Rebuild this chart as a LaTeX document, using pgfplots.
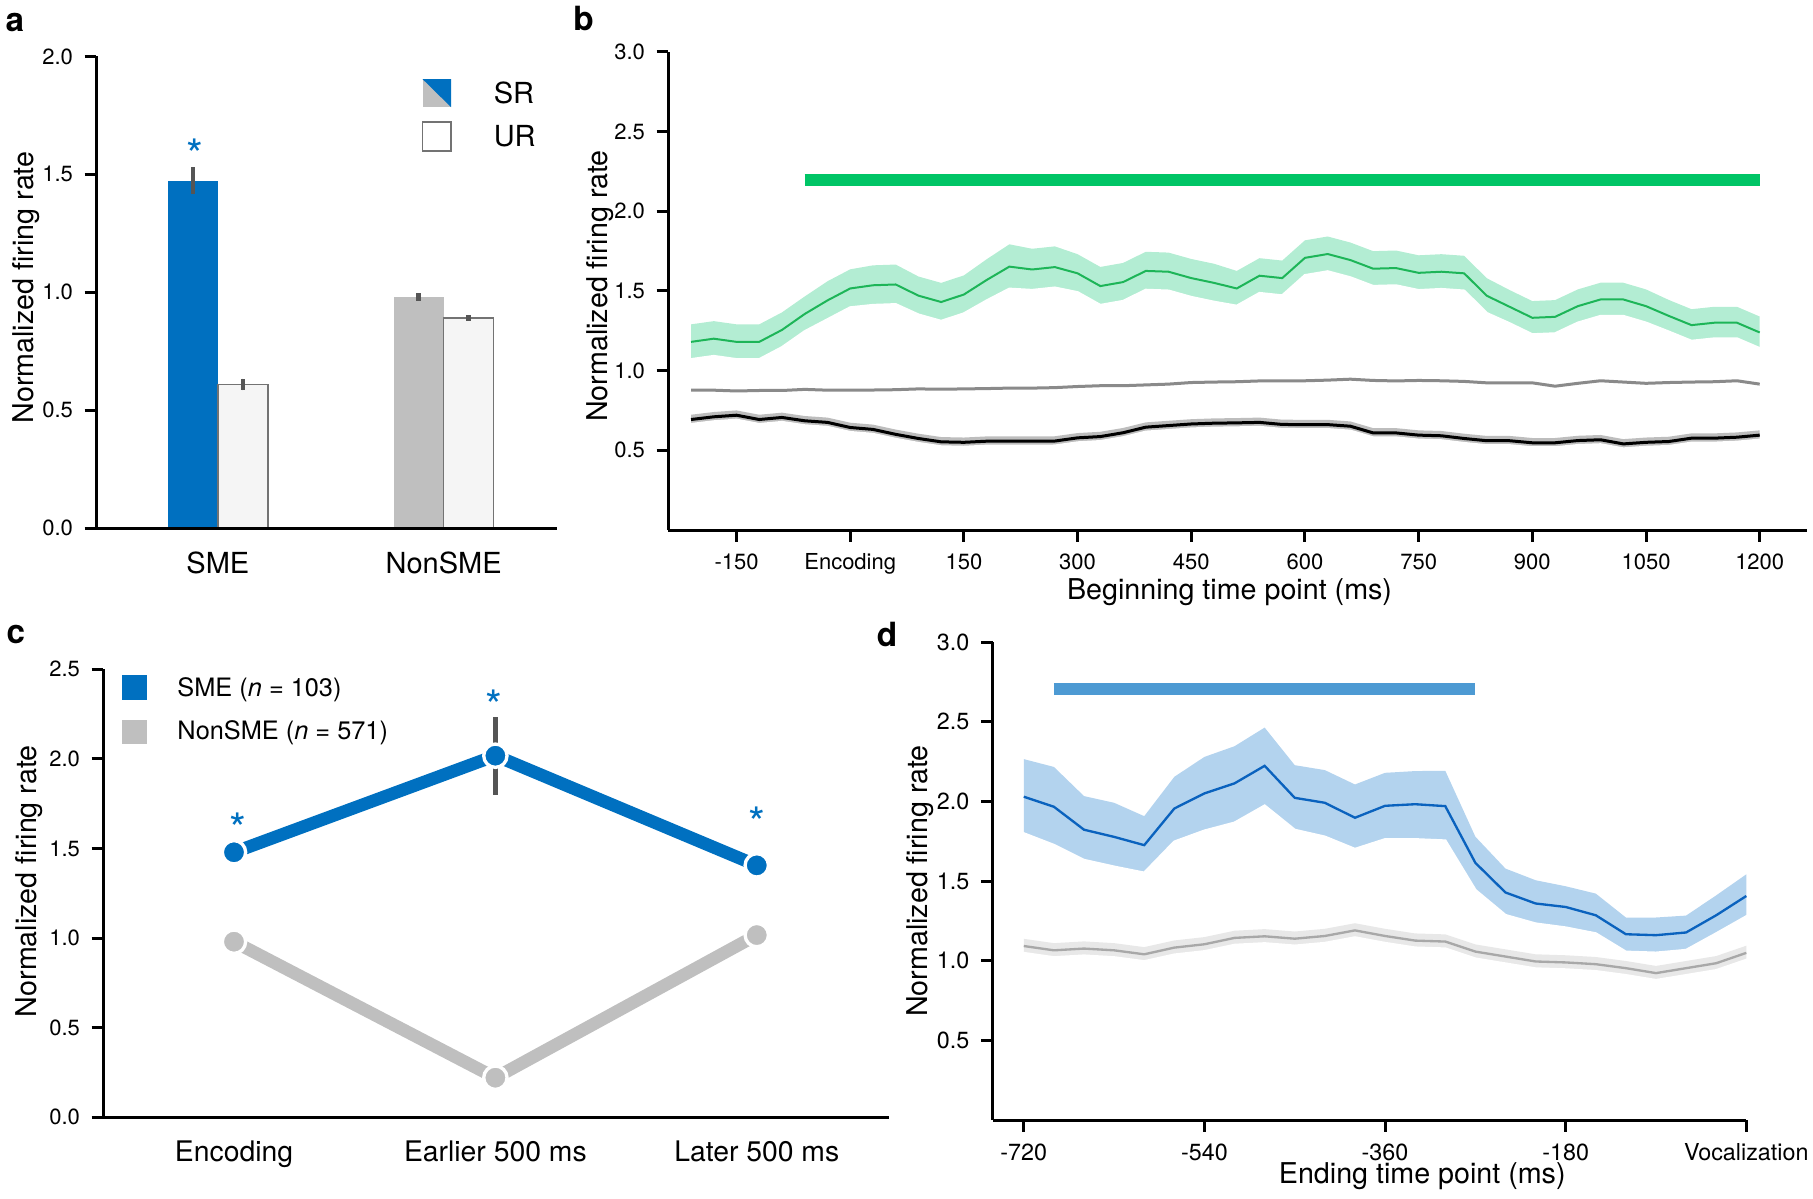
\documentclass[border=0pt]{standalone}
\usepackage{pgfplots}
\usepackage{pgfplotstable}
\pgfplotsset{compat=1.18}
\usepackage{fontspec}
\setmainfont{TeX Gyre Heros}

\definecolor{smeblue}{HTML}{0070C0}
\definecolor{nongray}{HTML}{BFBFBF}
\definecolor{urfill}{HTML}{F5F5F5}
\definecolor{errgray}{HTML}{555555}
\definecolor{gbar}{HTML}{00C566}
\definecolor{gline}{HTML}{1DB558}
\definecolor{gband}{HTML}{B3EDD3}
\definecolor{midgray}{HTML}{8A8A8A}
\definecolor{kband}{HTML}{BDBDBD}
\definecolor{dbar}{HTML}{4D9AD3}
\definecolor{dline}{HTML}{0A62BE}
\definecolor{dband}{HTML}{B3D3EE}
\definecolor{dgray}{HTML}{A8A8A8}
\definecolor{dgband}{HTML}{E8E8E8}

% panel b: beginning time point, green = SME, k = black, gr = grey
\pgfplotstableread{
t g ge k gr
-210 1.18 0.11 0.693 0.877
-180 1.20 0.11 0.710 0.877
-150 1.18 0.11 0.720 0.872
-120 1.18 0.11 0.693 0.875
-90 1.255 0.11 0.706 0.875
-60 1.355 0.11 0.685 0.882
-30 1.44 0.12 0.675 0.877
0 1.515 0.12 0.643 0.877
30 1.535 0.125 0.631 0.878
60 1.54 0.125 0.600 0.880
90 1.47 0.12 0.574 0.885
120 1.43 0.12 0.553 0.883
150 1.477 0.12 0.550 0.885
180 1.568 0.13 0.557 0.887
210 1.652 0.14 0.557 0.890
240 1.634 0.13 0.557 0.890
270 1.649 0.13 0.558 0.893
300 1.61 0.12 0.578 0.900
330 1.53 0.12 0.586 0.905
360 1.555 0.12 0.61 0.905
390 1.625 0.12 0.645 0.910
420 1.62 0.12 0.655 0.915
450 1.58 0.12 0.665 0.925
480 1.55 0.12 0.67 0.928
510 1.515 0.11 0.672 0.930
540 1.595 0.11 0.675 0.935
570 1.58 0.11 0.662 0.935
600 1.707 0.11 0.661 0.936
630 1.731 0.11 0.661 0.940
660 1.693 0.11 0.651 0.946
690 1.639 0.11 0.609 0.938
720 1.643 0.11 0.609 0.935
750 1.613 0.11 0.595 0.938
780 1.62 0.11 0.591 0.936
810 1.61 0.11 0.574 0.932
840 1.469 0.11 0.560 0.923
870 1.40 0.105 0.560 0.923
900 1.331 0.105 0.547 0.923
930 1.337 0.105 0.547 0.902
960 1.404 0.105 0.561 0.920
990 1.446 0.105 0.566 0.936
1020 1.446 0.105 0.540 0.928
1050 1.404 0.105 0.550 0.920
1080 1.343 0.1 0.555 0.925
1110 1.285 0.1 0.576 0.928
1140 1.30 0.1 0.576 0.930
1170 1.30 0.1 0.582 0.936
1200 1.239 0.1 0.595 0.915
}\tabB

% panel d: ending time point, m/lo/hi = SME (blue), g = NonSME (grey)
\pgfplotstableread{
t m lo hi g
-720 2.029 1.798 2.265 1.092
-690 1.966 1.725 2.216 1.065
-660 1.822 1.631 2.033 1.076
-630 1.777 1.589 1.991 1.065
-600 1.725 1.551 1.907 1.040
-570 1.955 1.746 2.154 1.082
-540 2.05 1.815 2.279 1.103
-510 2.113 1.865 2.346 1.143
-480 2.223 1.972 2.463 1.153
-450 2.022 1.82 2.227 1.138
-420 1.991 1.777 2.196 1.155
-390 1.897 1.70 2.106 1.190
-360 1.972 1.761 2.179 1.155
-330 1.982 1.761 2.19 1.126
-300 1.97 1.753 2.192 1.120
-270 1.614 1.442 1.778 1.057
-240 1.428 1.285 1.578 1.026
-210 1.359 1.232 1.505 0.995
-180 1.337 1.207 1.467 0.989
-150 1.285 1.17 1.421 0.978
-120 1.166 1.055 1.271 0.953
-90 1.16 1.049 1.271 0.922
-60 1.177 1.066 1.283 0.953
-30 1.285 1.17 1.41 0.984
0 1.406 1.277 1.542 1.049
}\tabD

\pgfplotsset{
  panel/.style={
    scale only axis, axis lines=left, axis on top,
    axis line style={-, line width=0.9pt},
    tick align=outside, tick pos=left, major tick length=3.5pt,
    tick style={black, line width=0.9pt},
    tick label style={font=\fontsize{6.6}{7}\selectfont},
    label style={font=\fontsize{8.6}{10}\selectfont},
    clip=false,
  },
  errs/.style={error bars/.cd, y dir=both, y explicit, error mark=none,
    error bar style={errgray, line width=1.3pt}},
  mask/.style={fill=white, draw=white, line width=0.8pt},
}
\tikzset{sigstar/.style={text=smeblue, font=\fontsize{13}{13}\selectfont, anchor=base, yshift=-7.5pt}}

\begin{document}
\begin{tikzpicture}
\path[use as bounding box] (0,0) rectangle (543.9pt,-359.4pt);

% ---------------- a ----------------
\begin{axis}[panel, at={(28.92pt,-16.92pt)}, anchor=north west,
  width=138.18pt, height=141.48pt,
  xmin=-0.5383, xmax=1.5024, ymin=0, ymax=2,
  xtick={0,1}, xticklabels={SME,NonSME},
  x tick label style={font=\fontsize{8.7}{10}\selectfont},
  major x tick style={draw=none},
  ytick={0,0.5,1,1.5,2}, yticklabels={0.0,0.5,1.0,1.5,2.0},
  ylabel={Normalized firing rate},
  ylabel style={at={(axis description cs:-0.1535,0.51)}, anchor=center}]
\addplot[ybar, bar width=0.2215, fill=smeblue, draw=none, errs]
  coordinates {(-0.1107,1.473) +- (0,0.056)};
\addplot[ybar, bar width=0.2215, fill=nongray, draw=none, errs]
  coordinates {(0.8893,0.979) +- (0,0.016)};
\addplot[ybar, bar width=0.2215, fill=urfill, draw=black!55, line width=0.4pt, errs]
  coordinates {(0.1107,0.609) +- (0,0.025) (1.1107,0.891) +- (0,0.012)};
\node[sigstar] at (axis cs:-0.103,1.624) {*};
% legend
\fill[nongray] (axis cs:0.9065,1.785) rectangle (axis cs:1.0328,1.904);
\fill[smeblue] (axis cs:0.9065,1.904) -- (axis cs:1.0328,1.904) -- (axis cs:1.0328,1.785) -- cycle;
\draw[black!55, fill=white, line width=0.5pt] (axis cs:0.9065,1.599) rectangle (axis cs:1.0328,1.722);
\node[anchor=west, font=\fontsize{8.7}{10}\selectfont] at (axis cs:1.17,1.845) {SR};
\node[anchor=west, font=\fontsize{8.7}{10}\selectfont] at (axis cs:1.17,1.66) {UR};
\end{axis}

% ---------------- b ----------------
\begin{axis}[panel, at={(200.49pt,-15.51pt)}, anchor=north west,
  width=341.52pt, height=143.49pt,
  xmin=-240, xmax=1262, ymin=0, ymax=3,
  xtick={-150,0,150,300,450,600,750,900,1050,1200},
  xticklabels={-150,Encoding,150,300,450,600,750,900,1050,1200},
  ytick={0.5,1,1.5,2,2.5,3}, yticklabels={0.5,1.0,1.5,2.0,2.5,3.0},
  xlabel={Beginning time point (ms)}, ylabel={Normalized firing rate},
  xlabel style={at={(axis description cs:0.493,-0.13)}, anchor=center},
  ylabel style={at={(axis description cs:-0.06,0.51)}, anchor=center}]
% bands: upper edge filled down to zero, then masked by the lower edge
\addplot[fill=gband, draw=none] table[x=t, y expr=\thisrow{g}+\thisrow{ge}] {\tabB} \closedcycle;
\addplot[mask] table[x=t, y expr=\thisrow{g}-\thisrow{ge}] {\tabB} \closedcycle;
\addplot[gline, line width=0.6pt] table[x=t, y=g] {\tabB};
\addplot[fill=kband, draw=none] table[x=t, y expr=\thisrow{k}+0.03] {\tabB} \closedcycle;
\addplot[mask] table[x=t, y expr=\thisrow{k}-0.03] {\tabB} \closedcycle;
\addplot[black, line width=0.9pt] table[x=t, y=k] {\tabB};
\addplot[midgray, line width=0.9pt] table[x=t, y=gr] {\tabB};
\addplot[gbar, line width=3.5pt] coordinates {(-60,2.195) (1200,2.195)};
\end{axis}

% ---------------- c ----------------
\begin{axis}[panel, at={(30.99pt,-200.79pt)}, anchor=north west,
  width=235.8pt, height=134.4pt,
  xmin=-0.5, xmax=2.507, ymin=0, ymax=2.5,
  xtick={0,1,2}, xticklabels={Encoding,Earlier 500 ms,Later 500 ms},
  major x tick style={draw=none},
  x tick label style={font=\fontsize{8.5}{10}\selectfont},
  ytick={0,0.5,1,1.5,2,2.5}, yticklabels={0.0,0.5,1.0,1.5,2.0,2.5},
  ylabel={Normalized firing rate},
  ylabel style={at={(axis description cs:-0.094,0.527)}, anchor=center}]
\addplot[only marks, mark=none, errs] coordinates {(1,2.018) +- (0,0.217)};
\addplot[nongray, line width=3.8pt, mark=*, mark size=3.5pt,
  mark options={fill=nongray, draw=white, line width=1pt}]
  coordinates {(0,0.98) (1,0.221) (2,1.017)};
\addplot[smeblue, line width=3.8pt, mark=*, mark size=3.5pt,
  mark options={fill=smeblue, draw=white, line width=1pt}]
  coordinates {(0,1.479) (1,2.018) (2,1.406)};
\node[sigstar] at (axis cs:0.015,1.66) {*};
\node[sigstar] at (axis cs:0.995,2.347) {*};
\node[sigstar] at (axis cs:2.0015,1.696) {*};
\fill[smeblue] (axis cs:-0.4296,2.329) rectangle (axis cs:-0.3316,2.468);
\fill[nongray] (axis cs:-0.4296,2.083) rectangle (axis cs:-0.3316,2.217);
\node[anchor=west, font=\fontsize{7.6}{9}\selectfont] at (axis cs:-0.2612,2.384) {SME (\textit{n} = 103)};
\node[anchor=west, font=\fontsize{7.6}{9}\selectfont] at (axis cs:-0.2612,2.145) {NonSME (\textit{n} = 571)};
\end{axis}

% ---------------- d ----------------
\begin{axis}[panel, at={(297.81pt,-192.6pt)}, anchor=north west,
  width=226.08pt, height=143.4pt,
  xmin=-751, xmax=0, ymin=0, ymax=3,
  tick label style={font=\fontsize{7}{8}\selectfont},
  xtick={-720,-540,-360,-180,0},
  xticklabels={-720,-540,-360,-180,Vocalization},
  ytick={0.5,1,1.5,2,2.5,3}, yticklabels={0.5,1.0,1.5,2.0,2.5,3.0},
  xlabel={Ending time point (ms)}, ylabel={Normalized firing rate},
  xlabel style={at={(axis description cs:0.57,-0.117)}, anchor=center},
  ylabel style={at={(axis description cs:-0.0965,0.5)}, anchor=center}]
\addplot[fill=dband, draw=none] table[x=t, y=hi] {\tabD} \closedcycle;
\addplot[mask] table[x=t, y=lo] {\tabD} \closedcycle;
\addplot[dline, line width=0.7pt] table[x=t, y=m] {\tabD};
\addplot[fill=dgband, draw=none] table[x=t, y expr=\thisrow{g}+0.045] {\tabD} \closedcycle;
\addplot[mask] table[x=t, y expr=\thisrow{g}-0.045] {\tabD} \closedcycle;
\addplot[dgray, line width=0.7pt] table[x=t, y=g] {\tabD};
\addplot[dbar, line width=3.6pt] coordinates {(-690,2.703) (-270,2.703)};
\end{axis}

% panel letters
\node[font=\bfseries\fontsize{10}{12}\selectfont] at (4.5pt,-6.6pt) {a};
\node[font=\bfseries\fontsize{10}{12}\selectfont] at (175.1pt,-5.6pt) {b};
\node[font=\bfseries\fontsize{10}{12}\selectfont] at (4.8pt,-190.3pt) {c};
\node[font=\bfseries\fontsize{10}{12}\selectfont] at (266.1pt,-190.3pt) {d};
\end{tikzpicture}
\end{document}
